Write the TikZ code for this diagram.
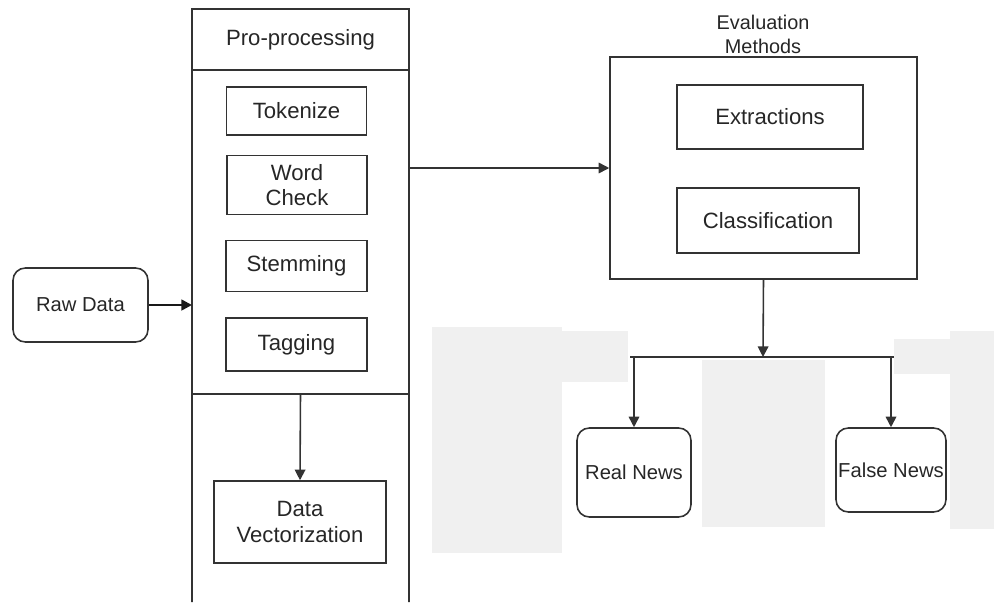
\documentclass[tikz,border=0pt]{standalone}
\usepackage{fontspec}
\setmainfont{Liberation Sans}
\usetikzlibrary{positioning}
\usetikzlibrary{arrows.meta}
\tikzset{
    box/.style = {rectangle, draw=black!80, line width=0.9pt, align=center, inner sep=0pt, text=black!85, font=\fontsize{12.6}{14.7}\selectfont},
    rbox/.style = {rectangle, rounded corners=7pt, draw=black!80, line width=0.9pt, align=center, inner sep=0pt, text=black!85, font=\fontsize{11.5}{13.6}\selectfont},
    lbl/.style = {align=center, inner sep=0pt, text=black!85, font=\fontsize{11.3}{13.6}\selectfont},
    patch/.style = {fill=black!6},
}

\begin{document}
\begin{tikzpicture}[x=0.02cm, y=-0.02cm]
\tikzset{
    edgea/.style = {-{Triangle[width=6pt,length=6pt]}, line width=0.9pt, draw=black!80},
    edgeb/.style = {-{Triangle[width=6pt,length=6pt]}, line width=1.4pt, draw=black!90},
    edgen/.style = {-, line width=0.9pt, draw=black!80},
}
\useasboundingbox (0,0) rectangle (994,602);
% grey patches
\fill[patch] (432,327) rectangle (562,553);
\fill[patch] (537,331) rectangle (628,382);
\fill[patch] (702,360) rectangle (825,527);
\fill[patch] (894,339) rectangle (950,374);
\fill[patch] (950,331) rectangle (994,529);
%
\node[rbox, minimum width=2.7cm, minimum height=1.48cm] at (80.5,305) (raw) {Raw Data};
%
\node[box, minimum width=4.34cm, minimum height=1.22cm] at (300.5,39.5) (head) {Pro-processing};
\node[box, outer sep=0pt, minimum width=4.34cm, minimum height=6.48cm] at (300.5,232) (prep) {};
\node[box, minimum width=2.8cm, minimum height=0.96cm] at (296.5,111) (tok) {Tokenize};
\node[box, minimum width=2.8cm, minimum height=1.18cm] at (297,185) (word) {Word\\Check};
\node[box, minimum width=2.82cm, minimum height=1.02cm] at (296.5,266) (stem) {Stemming};
\node[box, minimum width=2.82cm, minimum height=1.06cm] at (296.5,344.5) (tag) {Tagging};
\node[box, minimum width=3.44cm, minimum height=1.64cm] at (300,522) (vec) {Data\\Vectorization};
\coordinate (colbl) at (192,602);
\coordinate (colbr) at (409,602);
%
\node[box, minimum width=6.14cm, minimum height=4.44cm] at (763.5,168) (eval) {};
\node[lbl] at (763,34) (evaltitle) {Evaluation\\Methods};
\node[box, minimum width=3.72cm, minimum height=1.28cm] at (770,117) (ext) {Extractions};
\node[box, minimum width=3.64cm, minimum height=1.3cm] at (768,220.5) (cls) {Classification};
%
\node[rbox, minimum width=2.28cm, minimum height=1.78cm] at (634,472.5) (real) {Real News};
\node[rbox, minimum width=2.2cm, minimum height=1.68cm] at (891,470) (fake) {False News};
\coordinate (split) at (763,357);
\coordinate (barl) at (630,357);
\coordinate (barr) at (894,357);
%
\draw[edgeb] (raw.east) -- (raw.east -| prep.west);
\draw[edgea] (eval.west -| prep.east) -- (eval.west);
\draw[edgea] (prep.south) -- (vec.north);
\draw[edgen] (prep.south west) -- (colbl);
\draw[edgen] (prep.south east) -- (colbr);
%
\draw[edgea] (eval.south) -- (split);
\draw[edgen] (barl) -- (barr);
\draw[edgea] (real.north |- barl) -- (real.north);
\draw[edgea] (fake.north |- barr) -- (fake.north);
\end{tikzpicture}
\end{document}
